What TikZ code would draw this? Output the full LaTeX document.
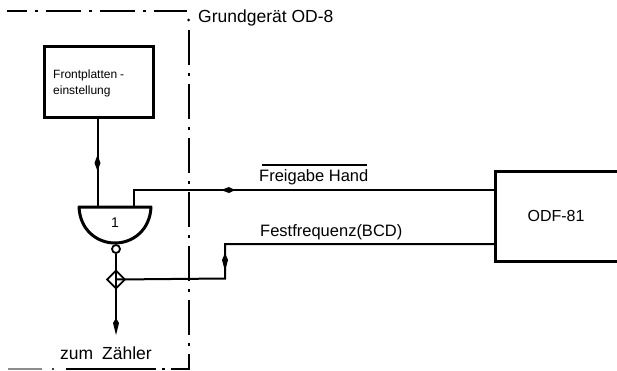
\documentclass[tikz,border=0pt]{standalone}
\usepackage{fontspec}
\setmainfont{Liberation Sans}
\usetikzlibrary{arrows.meta}
\tikzset{
  x=1pt,y=-1pt,
  boxthick/.style={draw=black,line width=3pt,rectangle},
  wire/.style={draw=black,line width=2pt},
  frame/.style={draw=black,line width=2pt,dash pattern=on 35pt off 8pt on 2.5pt off 8.5pt},
  lbl/.style={inner sep=0pt,text=black,font=\fontsize{16.5}{18}\selectfont},
  small/.style={inner sep=0pt,text=black,font=\fontsize{12}{13}\selectfont},
}
\begin{document}
\begin{tikzpicture}
\useasboundingbox (0,0) rectangle (617,370);
% frame
\coordinate (fa) at (7,11); \coordinate (fb) at (187,11);
\coordinate (fc) at (188.5,30); \coordinate (fd) at (188.5,369);
\coordinate (fe) at (189.5,368.8); \coordinate (ff) at (66,368.8);
\coordinate (fg) at (42,369); \coordinate (fh) at (8,369);
\draw[frame,dash phase=15pt] (fa) -- (fb);
\fill (188.5,20) circle (1.5);
\draw[frame] (fc) -- (fd);
\draw[draw=black,line width=2pt,dash pattern=on 19pt off 6pt on 2.5pt off 6pt on 90pt off 20pt] (fe) -- (ff);
\draw[draw=black!45,line width=1.5pt] (fg) -- (fh);
\fill (53,369) circle (1.1);
% boxes
\draw[boxthick] (44,46) rectangle (153,117);
\coordinate (boxb) at (97.5,117);
\node[small,anchor=west] (t1) at (53,75) {Frontplatten\hspace{3pt}-};
\node[small,anchor=west] (t2) at (53,91) {einstellung};
\draw[boxthick] (617.5,171) -- (495,171) -- (495,261) -- (617.5,261);
\coordinate (odfa) at (494,190);
\coordinate (odfb) at (494,244);
\node[lbl,font=\fontsize{16}{18}\selectfont] (odf) at (556,216) {ODF-81};
% gate
\draw[boxthick,line join=round] (79,207) -- (151,207) .. controls (150,230) and (133,243) .. (115,243) .. controls (97,243) and (80,230) .. (79,207) -- cycle;
\node[lbl,font=\fontsize{14}{16}\selectfont] (one) at (115,223) {1};
\node[draw=black,circle,line width=1.8pt,minimum size=8pt,inner sep=0pt] (inv) at (116,249) {};
\node[draw=black,line width=1.8pt,inner sep=0pt,shape=rectangle,rotate=45,minimum width=12.5pt,minimum height=12.5pt] (dia) at (116,279.5) {};
\coordinate (gatea) at (97.5,207);
\coordinate (gateb) at (134,207);
\coordinate (ende) at (116,320);
% wires
\draw[wire] (boxb) -- (gatea);
\fill (97.5,171) -- (94.5,163) -- (97.5,155) -- (100.5,163) -- cycle;
\draw[wire] (inv.south) -- (dia.center) -- (ende);
\fill (116,335) -- (113,323) -- (116,318) -- (119,323) -- cycle;
\draw[wire] (gateb) -- (134,190) -- (odfa);
\fill (221,190) -- (229,187) -- (235,190) -- (229,193) -- cycle;
\draw[wire] (odfb) -- (225,244) -- (225,278.5) -- (dia.center);
\fill (225,271) -- (222,260) -- (225,253) -- (228,260) -- cycle;
% labels
\node[lbl,anchor=west,font=\fontsize{17.5}{18}\selectfont] (gg) at (198,18) {Grundgerät OD-8};
\node[lbl,anchor=west] (fhl) at (259,177) {Freigabe Hand};
\coordinate (ova) at (262,165); \coordinate (ovb) at (367,165);
\draw[line width=1.2pt] (ova) -- (ovb);
\node[lbl,anchor=west] (ff2) at (260,232) {Festfrequenz(BCD)};
\node[lbl,font=\fontsize{17.5}{18}\selectfont] (zz) at (106,353) {zum\hspace{4pt} Zähler};
\end{tikzpicture}
\end{document}
